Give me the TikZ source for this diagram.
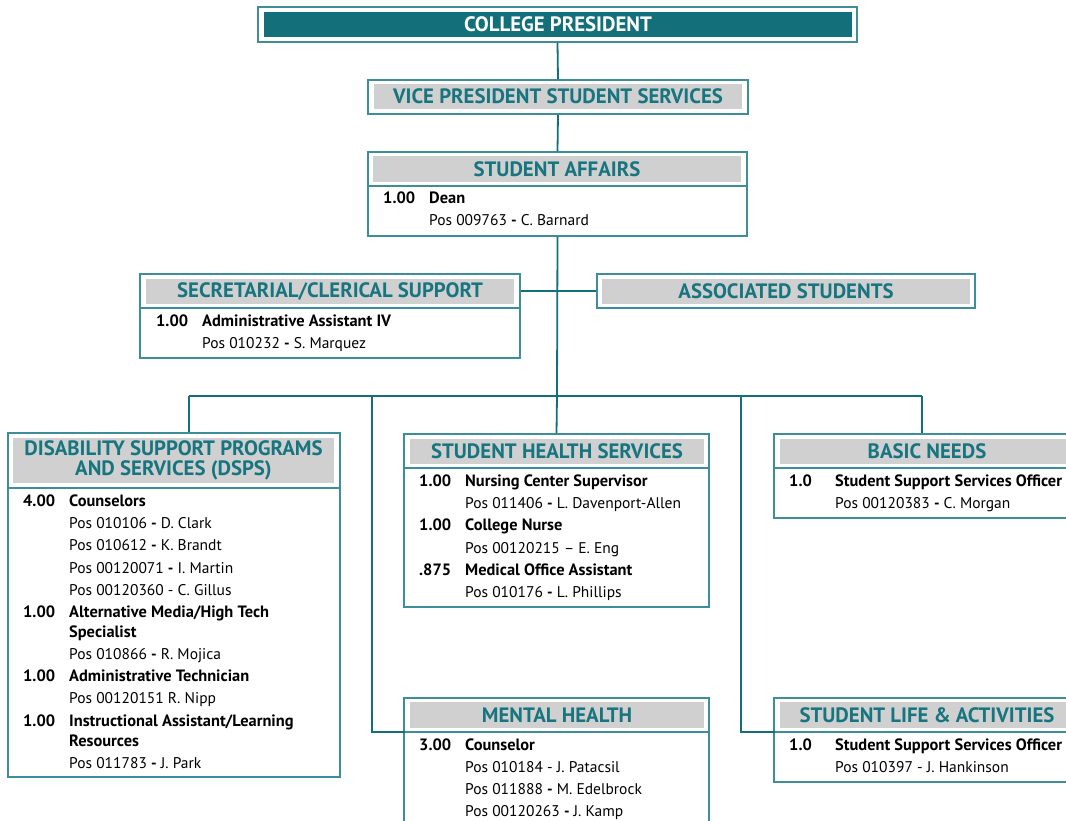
\documentclass[tikz,border=0pt]{standalone}
\usepackage{fontspec}
\setmainfont{PT Sans}
\definecolor{tealdark}{HTML}{13707B}
\definecolor{tealtext}{HTML}{177580}
\definecolor{boxc}{HTML}{3C8F98}
\definecolor{hgray}{HTML}{D0D0D0}
\newcounter{tl}
\newcommand\tline[3]{\stepcounter{tl}\node[txt] (t\arabic{tl}) at (#1,#2) {#3};}
\newcommand\bt[1]{{\fontsize{16.4}{18}\selectfont\bfseries #1}}
\begin{document}
\begin{tikzpicture}[x=1pt,y=-1pt,
  obox/.style={draw=boxc, line width=1.2pt, fill=white, inner sep=0pt},
  gbox/.style={fill=hgray, text=tealtext, font=\fontsize{20.8}{20}\selectfont\bfseries, inner sep=0pt},
  txt/.style={font=\fontsize{15.5}{17}\selectfont, inner sep=0pt, anchor=base west},
  con/.style={draw=tealdark, line width=1.8pt},
  sepline/.style={draw=boxc, line width=1.5pt}]
\clip (0,0) rectangle (1066,821);
\fill[white] (0,0) rectangle (1066,821);
\coordinate (bus) at (557,396);
\coordinate (j1) at (189,396);
\coordinate (j2) at (372,396);
\coordinate (j4) at (741,396);
\coordinate (j5) at (922,396);
\coordinate (mhsep) at (405,732);
\coordinate (slsep) at (775,732);
% boxes
\node[obox, minimum width=599pt, minimum height=35pt] (cp) at (557.5,24.5) {};
\node[fill=tealdark, text=white, font=\fontsize{20.8}{20}\selectfont\bfseries, inner sep=0pt, minimum width=588pt, minimum height=25pt] (cpt) at (558,24.5) {COLLEGE PRESIDENT};
\node[obox, minimum width=380pt, minimum height=34pt] (vp) at (558,97) {};
\node[gbox, minimum width=368pt, minimum height=25pt] (vpt) at (558,96.5) {VICE PRESIDENT STUDENT SERVICES};
\node[obox, minimum width=379pt, minimum height=84pt] (sa) at (557.5,194) {};
\node[gbox, minimum width=368pt, minimum height=26pt] (sat) at (557,169) {STUDENT AFFAIRS};
\node[obox, minimum width=380pt, minimum height=84pt] (sec) at (330,316) {};
\node[gbox, minimum width=368pt, minimum height=25pt] (sect) at (330,291.5) {SECRETARIAL/CLERICAL SUPPORT};
\node[obox, minimum width=378pt, minimum height=34pt] (as) at (786,291) {};
\node[gbox, minimum width=368pt, minimum height=25pt] (ast) at (786,291.5) {ASSOCIATED STUDENTS};
\node[obox, minimum width=332pt, minimum height=344pt] (dsps) at (174,605) {};
\node[gbox, minimum width=321pt, minimum height=45pt, align=center] (dspst) at (173.5,460.5) {DISABILITY SUPPORT PROGRAMS\\AND SERVICES (DSPS)};
\node[obox, minimum width=305pt, minimum height=173pt] (sh) at (556.5,520.5) {};
\node[gbox, minimum width=294pt, minimum height=25pt] (sht) at (557,451.5) {STUDENT HEALTH SERVICES};
\node[obox, minimum width=306pt, minimum height=84pt] (bn) at (927,476) {};
\node[gbox, minimum width=294pt, minimum height=25pt] (bnt) at (927,451.5) {BASIC NEEDS};
\node[obox, minimum width=305pt, minimum height=202pt] (mh) at (556.5,799) {};
\node[gbox, minimum width=294pt, minimum height=26pt] (mht) at (557,715) {MENTAL HEALTH};
\node[obox, minimum width=306pt, minimum height=84pt] (sl) at (927,740) {};
\node[gbox, minimum width=294pt, minimum height=26pt] (slt) at (927,715) {STUDENT LIFE \& ACTIVITIES};
% separators
\draw[sepline] (sa.west |- 0,186) -- (sa.east |- 0,186);
\draw[sepline] (sec.west |- 0,308) -- (sec.east |- 0,308);
\draw[sepline] (dsps.west |- 0,488) -- (dsps.east |- 0,488);
\draw[sepline] (sh.west |- 0,468) -- (sh.east |- 0,468);
\draw[sepline] (bn.west |- 0,468) -- (bn.east |- 0,468);
\draw[sepline] (mh.west |- 0,732) -- (mh.east |- 0,732);
\draw[sepline] (sl.west |- 0,732) -- (sl.east |- 0,732);
% connectors
\draw[con] (cp.south) -- (vp.north);
\draw[con] (vp.south) -- (sa.north);
\draw[con] (sa.south) -- (bus);
\draw[con] (sec.east |- as.west) -- (as.west);
\draw[con] (j1) -- (j5);
\draw[con] (j1) -- (j1 |- dsps.north);
\draw[con] (bus) -- (sh.north);
\draw[con] (j5) -- (j5 |- bn.north);
\draw[con] (j2) |- (mhsep);
\draw[con] (j4) |- (slsep);
% texts: student affairs
\tline{383}{204}{\bt{1.00}}
\tline{429}{204}{\bt{Dean}}
\tline{429}{226}{Pos 009763 \textbf{-} C. Barnard}
% secretarial
\tline{156}{326}{\bt{1.00}}
\tline{202}{326}{\bt{Administrative Assistant IV}}
\tline{202}{348}{Pos 010232 \textbf{-} S. Marquez}
% dsps
\tline{23}{506}{\bt{4.00}}
\tline{69}{506}{\bt{Counselors}}
\tline{69}{528}{Pos 010106 \textbf{-} D. Clark}
\tline{69}{550}{Pos 010612 \textbf{-} K. Brandt}
\tline{69}{573}{Pos 00120071 \textbf{-} I. Martin}
\tline{69}{595}{Pos 00120360 - C. Gillus}
\tline{23}{617}{\bt{1.00}}
\tline{69}{617}{\bt{Alternative Media/High Tech}}
\tline{69}{637}{\bt{Specialist}}
\tline{69}{659}{Pos 010866 \textbf{-} R. Mojica}
\tline{23}{681}{\bt{1.00}}
\tline{69}{681}{\bt{Administrative Technician}}
\tline{69}{703}{Pos 00120151 R. Nipp}
\tline{23}{726}{\bt{1.00}}
\tline{69}{726}{\bt{Instructional Assistant/Learning}}
\tline{69}{746}{\bt{Resources}}
\tline{69}{768}{Pos 011783 \textbf{-} J. Park}
% student health
\tline{419}{486}{\bt{1.00}}
\tline{465}{486}{\bt{Nursing Center Supervisor}}
\tline{465}{508}{Pos 011406 \textbf{-} L. Davenport-Allen}
\tline{419}{530}{\bt{1.00}}
\tline{465}{530}{\bt{College Nurse}}
\tline{465}{553}{Pos 00120215 -- E. Eng}
\tline{419}{575}{\bt{.875}}
\tline{465}{575}{\bt{Medical Office Assistant}}
\tline{465}{597}{Pos 010176 \textbf{-} L. Phillips}
% basic needs
\tline{789}{486}{\bt{1.0}}
\tline{835}{486}{\bt{Student Support Services Officer}}
\tline{835}{508}{Pos 00120383 \textbf{-} C. Morgan}
% mental health
\tline{419}{750}{\bt{3.00}}
\tline{465}{750}{\bt{Counselor}}
\tline{465}{772}{Pos 010184 - J. Patacsil}
\tline{465}{794}{Pos 011888 \textbf{-} M. Edelbrock}
\tline{465}{816}{Pos 00120263 \textbf{-} J. Kamp}
% student life
\tline{789}{750}{\bt{1.0}}
\tline{835}{750}{\bt{Student Support Services Officer}}
\tline{835}{772}{Pos 010397 - J. Hankinson}
\end{tikzpicture}
\end{document}
